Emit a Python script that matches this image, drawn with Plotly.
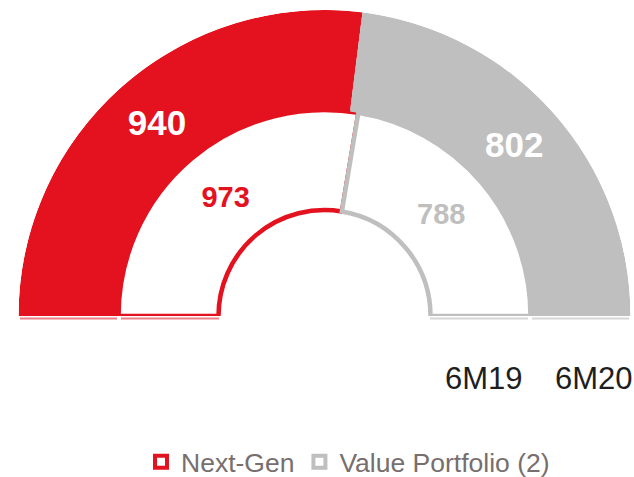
import plotly.graph_objects as go

# Data
series = ["Next-Gen", "Value Portfolio (2)"]
periods = ["6M19", "6M20"]          # inner ring, outer ring
values_6m19 = [973, 788]
values_6m20 = [940, 802]
colors = ["#E3121E", "#BFBFBF"]
faint = ["#EE7F86", "#D6D6D6"]

W, H = 634, 477

def px(x):
    return x / W

def py(y):
    return 1 - y / H

def spans(vals):
    tot = sum(vals)
    out, start = [], 0.0
    for v in vals:
        w = v / tot * 180.0
        out.append((start + w / 2, w))
        start += w
    return out

sp_in = spans(values_6m19)
sp_out = spans(values_6m20)

# geometry of the half-doughnut (pixels)
CX, CY, R_OUT, R_HOLE = 324.5, 316, 306, 102

fig = go.Figure()

# inner ring (6M19): white fill, coloured outline
for i, name in enumerate(series):
    fig.add_trace(go.Barpolar(
        name=name, theta=[sp_in[i][0]], width=[sp_in[i][1]], r=[1], base=[0],
        marker=dict(color="white", line=dict(color=colors[i], width=4.5)),
        hoverinfo="skip", showlegend=False))
# outer ring (6M20): solid fill
for i, name in enumerate(series):
    fig.add_trace(go.Barpolar(
        name=name, theta=[sp_out[i][0]], width=[sp_out[i][1]], r=[1], base=[1],
        marker=dict(color=colors[i], line=dict(color=colors[i], width=0)),
        hoverinfo="skip", showlegend=False))

# value labels
fig.add_trace(go.Scatterpolar(
    theta=[s[0] for s in sp_out], r=[1.47, 1.47], mode="text",
    text=[str(v) for v in values_6m20],
    textfont=dict(family="Liberation Sans, Arial", size=35, color="white", weight="bold"),
    showlegend=False, hoverinfo="skip"))
fig.add_trace(go.Scatterpolar(
    theta=[s[0] for s in sp_in], r=[0.47, 0.47], mode="text",
    text=[str(v) for v in values_6m19],
    textfont=dict(family="Liberation Sans, Arial", size=29, color=colors, weight="bold"),
    showlegend=False, hoverinfo="skip"))

# legend entries
for i, name in enumerate(series):
    fig.add_trace(go.Scatterpolar(
        name=name, theta=[None], r=[None], mode="markers",
        marker=dict(symbol="square", size=12, color="white",
                    line=dict(color=colors[i], width=4)),
        showlegend=True, hoverinfo="skip"))

# faint outline of the hidden lower half, just below each ring
shapes = []
ring_edges = [(R_OUT - 1.5, 207.5), (203.5, 105.5)]
for sign, col in ((-1, faint[0]), (1, faint[1])):
    for a, b in ring_edges:
        shapes.append(dict(type="line", xref="paper", yref="paper",
                           x0=px(CX + sign * a), x1=px(CX + sign * b),
                           y0=py(CY + 2.5), y1=py(CY + 2.5),
                           line=dict(color=col, width=2)))

fig.update_layout(
    width=W, height=H,
    margin=dict(l=0, r=0, t=0, b=0, autoexpand=False),
    paper_bgcolor="white",
    font=dict(family="Liberation Sans, Arial"),
    polar=dict(
        domain=dict(x=[px(CX - R_OUT), px(CX + R_OUT)], y=[py(CY), py(CY - R_OUT)]),
        sector=[0, 180],
        hole=R_HOLE / R_OUT,
        bgcolor="white",
        radialaxis=dict(visible=False, range=[-0.04, 2]),
        angularaxis=dict(visible=False, rotation=180, direction="clockwise",
                         thetaunit="degrees"),
    ),
    legend=dict(orientation="h", x=px(348), xanchor="center", y=py(462), yanchor="middle",
                font=dict(size=26.5, color="#776e6e"), itemwidth=30,
                traceorder="normal", bgcolor="rgba(0,0,0,0)"),
    shapes=shapes,
    annotations=[
        dict(text=periods[0], x=px(484), y=py(378), xref="paper", yref="paper",
             xanchor="center", yanchor="middle",
             showarrow=False, font=dict(size=31, color="#1e1e1e")),
        dict(text=periods[1], x=px(594), y=py(378), xref="paper", yref="paper",
             xanchor="center", yanchor="middle",
             showarrow=False, font=dict(size=31, color="#1e1e1e")),
    ],
)

fig.write_html("out.html", config={"displayModeBar": False},
               post_script="document.body.style.margin='0px';")
